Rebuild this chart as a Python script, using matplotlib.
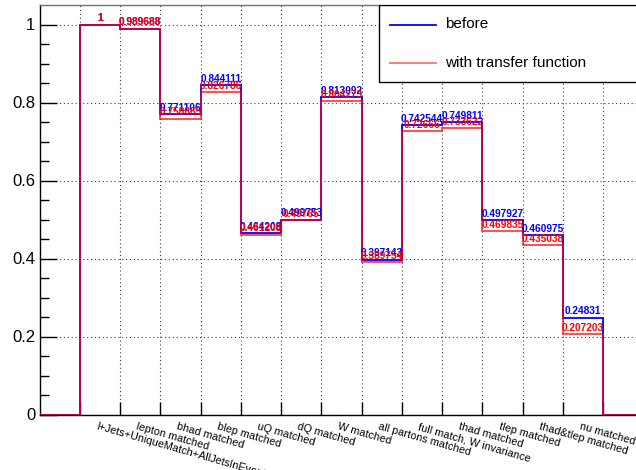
import matplotlib
matplotlib.use("Agg")
import matplotlib.pyplot as plt
from matplotlib.lines import Line2D
from matplotlib.patches import Rectangle
import numpy as np

plt.rcParams['font.family'] = ['Liberation Sans', 'DejaVu Sans']

cuts = ["l+Jets+UniqueMatch+AllJetsInEvent", "lepton matched", "bhad matched",
        "blep matched", "uQ matched", "dQ matched", "W matched",
        "all partons matched", "full match, W invariance", "thad matched",
        "tlep matched", "thad&tlep matched", "nu matched"]
before = [1, 0.989688, 0.771106, 0.844111, 0.464208, 0.499753, 0.813092,
          0.397143, 0.742544, 0.749811, 0.497927, 0.460975, 0.24831]
with_tf = [1, 0.989688, 0.758865, 0.826786, 0.461208, 0.49765, 0.804273,
           0.389754, 0.72666, 0.733622, 0.469835, 0.435038, 0.207203]

# one empty bin on each side of the labelled cuts
nbins = len(cuts) + 2
edges = np.arange(nbins + 1)
centers = np.arange(1, len(cuts) + 1) + 0.5

fig = plt.figure(figsize=(6.36, 4.70), dpi=100)
ax = fig.add_axes([39.5 / 636, 55.5 / 470, 604 / 636, 409.5 / 470])

ax.stairs([0] + before + [0], edges, color='blue', lw=1.3, zorder=3)
ax.stairs([0] + with_tf + [0], edges, color='red', lw=1.3, alpha=0.75, zorder=4)

def fmt(v):
    return ('%.6g' % v)

for x, v in zip(centers, before):
    ax.text(x, v + 0.003, fmt(v), color='blue', fontsize=7.3, fontweight='bold',
            ha='center', va='bottom', zorder=5)
for x, v in zip(centers, with_tf):
    ax.text(x, v + 0.003, fmt(v), color='red', fontsize=7.3, fontweight='bold',
            ha='center', va='bottom', zorder=6)

ax.set_xlim(0, nbins)
ax.set_ylim(0, 1.05)

yt = [0, 0.2, 0.4, 0.6, 0.8, 1.0]
ax.set_yticks(yt, ['0', '0.2', '0.4', '0.6', '0.8', '1'], fontsize=12)
ax.set_yticks(np.arange(0, 1.05, 0.05), minor=True)
ax.tick_params(axis='y', which='major', direction='in', length=12, width=1, pad=3)
ax.tick_params(axis='y', which='minor', direction='in', length=6.5, width=1)

ax.set_xticks(np.arange(1, nbins))
ax.set_xticklabels([])
ax.tick_params(axis='x', which='major', direction='in', length=9.5, width=1)
ax.set_xticks(centers - 0.05, cuts, minor=True)
ax.tick_params(axis='x', which='minor', length=0, pad=5, labelsize=7.8)
for lab in ax.get_xticklabels(minor=True):
    lab.set_rotation(-16)
    lab.set_ha('left')
    lab.set_va('top')
    lab.set_rotation_mode('anchor')

ax.grid(True, which='major', color='0.25', lw=0.8, linestyle=(0, (1, 2.5)))
ax.set_axisbelow(True)
ax.spines['top'].set_color('0.45')
ax.spines['top'].set_linewidth(1)
ax.spines['left'].set_linewidth(1)
ax.spines['bottom'].set_linewidth(1)

# legend box in the top right corner
leg_y0 = (414.5 - 82) / 409.5
leg_x0 = (379 - 39.5) / 604
ax.add_patch(Rectangle((leg_x0, leg_y0), 1 - leg_x0, 1 - leg_y0, transform=ax.transAxes,
                       facecolor='white', edgecolor='black', lw=1, zorder=10))
lx0 = (390 - 39.5) / 604
lx1 = (436 - 39.5) / 604
tx = (445 - 39.5) / 604
for yy, col, al, name in [((414.5 - 24.5) / 409.5, 'blue', 1.0, 'before'),
                          ((414.5 - 63) / 409.5, 'red', 0.55, 'with transfer function')]:
    ax.add_line(Line2D([lx0, lx1], [yy, yy], transform=ax.transAxes, color=col,
                       alpha=al, lw=1.3, zorder=11))
    ax.text(tx, yy, name, transform=ax.transAxes, fontsize=11, va='center',
            ha='left', zorder=11)

fig.savefig('out.png', dpi=100)
